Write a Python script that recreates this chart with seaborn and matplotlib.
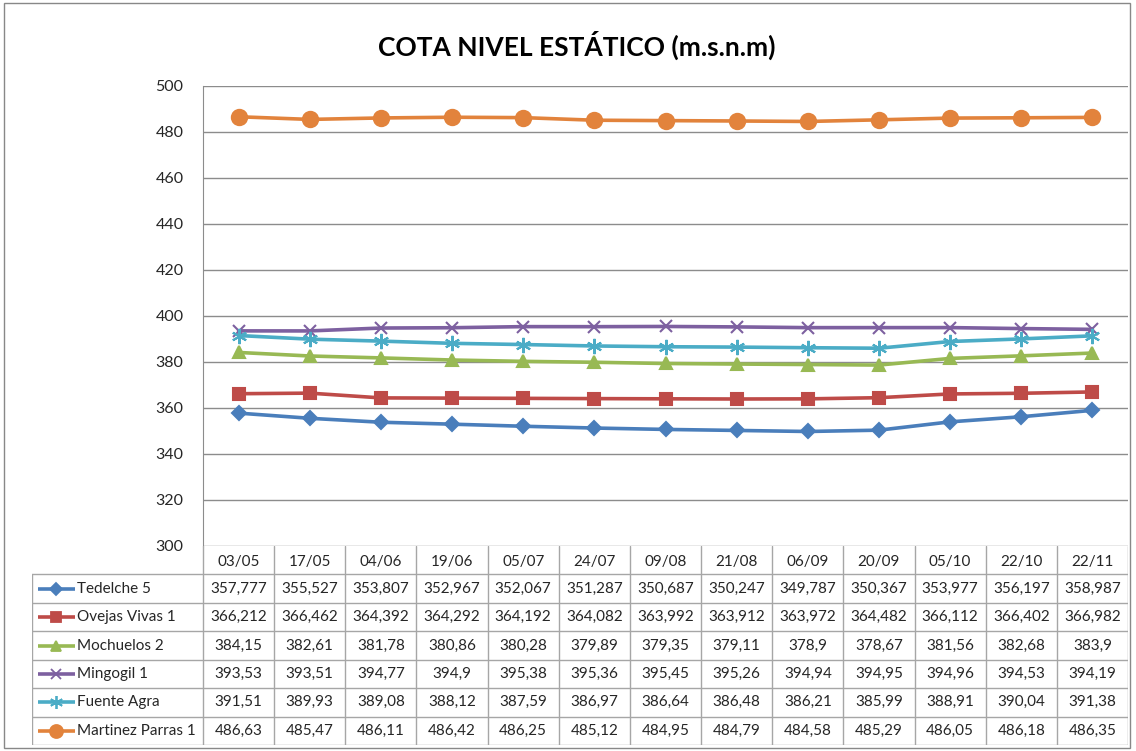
import pandas as pd
import matplotlib.pyplot as plt
import seaborn as sns
from matplotlib.patches import Rectangle

# ── DATA ─────────────────────────────────────────────────────────────────────

fechas = ['03/05', '17/05', '04/06', '19/06', '05/07', '24/07', '09/08',
          '21/08', '06/09', '20/09', '05/10', '22/10', '22/11']

tedelche_5 = [357.777, 355.527, 353.807, 352.967, 352.067, 351.287, 350.687,
              350.247, 349.787, 350.367, 353.977, 356.197, 358.987]
ovejas_vivas_1 = [366.212, 366.462, 364.392, 364.292, 364.192, 364.082, 363.992,
                  363.912, 363.972, 364.482, 366.112, 366.402, 366.982]
mochuelos_2 = [384.15, 382.61, 381.78, 380.86, 380.28, 379.89, 379.35,
               379.11, 378.9, 378.67, 381.56, 382.68, 383.9]
mingogil_1 = [393.53, 393.51, 394.77, 394.9, 395.38, 395.36, 395.45,
              395.26, 394.94, 394.95, 394.96, 394.53, 394.19]
fuente_agra = [391.51, 389.93, 389.08, 388.12, 387.59, 386.97, 386.64,
               386.48, 386.21, 385.99, 388.91, 390.04, 391.38]
martinez_parras_1 = [486.63, 485.47, 486.11, 486.42, 486.25, 485.12, 484.95,
                     484.79, 484.58, 485.29, 486.05, 486.18, 486.35]

pozos = ['Tedelche 5', 'Ovejas Vivas 1', 'Mochuelos 2', 'Mingogil 1',
         'Fuente Agra', 'Martinez Parras 1']
series = [tedelche_5, ovejas_vivas_1, mochuelos_2, mingogil_1, fuente_agra,
          martinez_parras_1]

colores = ['#4A7EBB', '#BE4B48', '#98B954', '#7D60A0', '#4BACC6', '#E2833C']
marcadores = ['D', 's', '^', 'x', (6, 2, 0), 'o']
tam_marc = [7, 8, 9, 9, 11, 11]

df = pd.DataFrame({
    'pozo': [p for p, s in zip(pozos, series) for _ in s],
    'idx': [i for s in series for i in range(len(s))],
    'cota': [v for s in series for v in s],
})

# ── FIGURE ───────────────────────────────────────────────────────────────────

sns.set_style('white')
plt.rcParams['font.family'] = ['Lato', 'DejaVu Sans']

W, H = 1136, 751
fig = plt.figure(figsize=(W / 100, H / 100), dpi=100)
fig.patches.append(Rectangle((4 / W, 3 / H), 1126 / W, 745 / H, transform=fig.transFigure,
                             fill=False, edgecolor='#888888', linewidth=1))

x0, x1 = 203, 1128
ax = fig.add_axes([x0 / W, 1 - 546 / H, (x1 - x0) / W, (546 - 86) / H])

sns.lineplot(data=df, x='idx', y='cota', hue='pozo', hue_order=pozos,
             palette=colores, linewidth=2.6, legend=False, ax=ax)
for line, m, ms, c in zip(ax.get_lines(), marcadores, tam_marc, colores):
    line.set_marker(m)
    line.set_markersize(ms)
    line.set_markeredgecolor(c)
    line.set_markerfacecolor(c)
    line.set_markeredgewidth(1.5)

ax.set_xlim(-0.5, len(fechas) - 0.5)
ax.set_ylim(300, 500)
ax.set_yticks(range(300, 501, 20))
ax.set_xticks([])
ax.set_xlabel('')
ax.set_ylabel('')
ax.tick_params(axis='y', labelsize=11.5, pad=14, length=0)
ax.grid(axis='y', color='#8C8C8C', linewidth=1)
for s in ['top', 'right', 'bottom']:
    ax.spines[s].set_visible(False)
ax.spines['left'].set_color('#8C8C8C')

fig.text(577 / W, 1 - 45 / H, 'COTA NIVEL ESTÁTICO (m.s.n.m)', ha='center', va='center',
         fontsize=19, fontweight='bold', color='black')

# ── DATA TABLE ───────────────────────────────────────────────────────────────

tx0 = 32
col_w = (x1 - x0) / len(fechas)
lab_w = (x0 - tx0) / col_w
tab = fig.add_axes([tx0 / W, 1 - 745 / H, (x1 - tx0) / W, (745 - 546) / H])
tab.set_xlim(-0.5 - lab_w, len(fechas) - 0.5)
tab.set_ylim(7, 0)
tab.axis('off')

lc = '#A6A6A6'
# header row: only vertical separators
for i in range(len(fechas) + 1):
    tab.plot([i - 0.5, i - 0.5], [0, 1], color=lc, lw=1)
for i, f in enumerate(fechas):
    tab.text(i, 0.55, f, ha='center', va='center', fontsize=11)
# body grid
for r in range(1, 8):
    tab.plot([-0.5 - lab_w, len(fechas) - 0.5], [r, r], color=lc, lw=1)
for i in range(-1, len(fechas) + 1):
    xx = -0.5 - lab_w if i == -1 else i - 0.5
    tab.plot([xx, xx], [1, 7], color=lc, lw=1)

for r, (p, s, c, m, ms) in enumerate(zip(pozos, series, colores, marcadores, tam_marc)):
    y = r + 1.5
    kx0 = -0.5 - lab_w + 0.08
    kx1 = kx0 + 0.52
    tab.plot([kx0, kx1], [y, y], color=c, lw=2.6, solid_capstyle='butt')
    tab.plot([(kx0 + kx1) / 2], [y], marker=m, color=c, markersize=ms * 0.85,
             markeredgewidth=1.3)
    tab.text(kx1 + 0.03, y, p, ha='left', va='center', fontsize=11)
    for i, v in enumerate(s):
        tab.text(i, y, str(v).replace('.', ','), ha='center', va='center', fontsize=11)

plt.savefig('out.png', dpi=100)
